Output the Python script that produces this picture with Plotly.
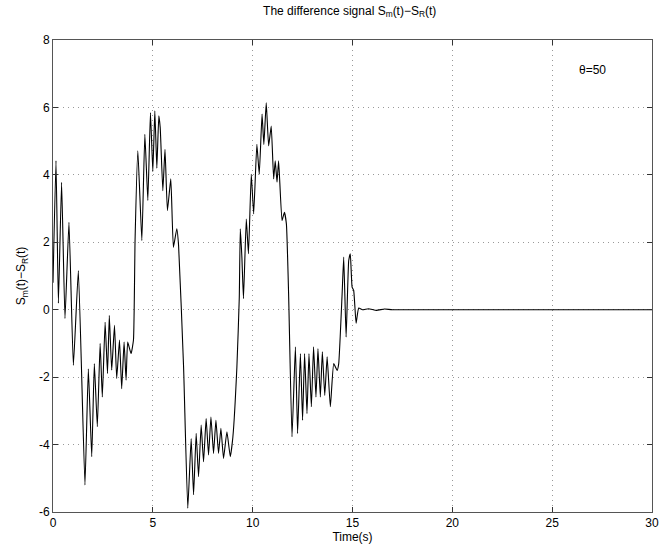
import plotly.graph_objects as go

# Time samples (s)
time_s = [0.0, 0.15, 0.27, 0.43, 0.6, 0.8, 1.02, 1.27, 1.6, 1.77, 1.94, 2.07, 2.22, 2.36,
          2.47, 2.61, 2.73, 2.82, 2.94, 3.08, 3.19, 3.33, 3.44, 3.56, 3.66, 3.74, 3.91,
          4.03, 4.11, 4.25, 4.45, 4.6, 4.75, 4.88, 5.0, 5.1, 5.2, 5.3, 5.37, 5.5, 5.61,
          5.73, 5.9, 6.03, 6.2, 6.29, 6.54, 6.75, 6.92, 7.04, 7.17, 7.29, 7.42, 7.54,
          7.67, 7.79, 7.91, 8.04, 8.16, 8.29, 8.41, 8.54, 8.71, 8.88, 9.01, 9.21, 9.33,
          9.38, 9.46, 9.54, 9.68, 9.79, 9.93, 10.05, 10.21, 10.33, 10.47, 10.56, 10.68,
          10.8, 10.93, 11.05, 11.13, 11.22, 11.3, 11.47, 11.59, 11.69, 11.8, 11.97, 12.14,
          12.25, 12.39, 12.5, 12.6, 12.72, 12.82, 12.94, 13.05, 13.17, 13.27, 13.39, 13.49,
          13.61, 13.73, 13.89, 14.06, 14.23, 14.31, 14.48, 14.56, 14.68, 14.81, 14.89,
          14.98, 15.06, 15.18, 15.31, 15.5, 15.8, 16.2, 16.6, 17.0, 30.0]

# Difference signal Sm(t)-SR(t)
diff_signal = [0.8, 4.42, 0.19, 3.78, -0.26, 2.59, -1.65, 1.16, -5.2, -1.75, -4.36, -1.6, -3.47, -1.0,
               -2.59, -0.37, -1.89, -0.17, -1.79, -0.46, -2.04, -0.9, -2.34, -0.96, -2.09, -0.96, -1.3,
               -0.9, 2.05, 4.71, 2.05, 5.2, 3.24, 5.85, 4.1, 5.9, 4.2, 5.75, 5.4, 3.53, 4.76,
               2.94, 3.88, 1.85, 2.4, 1.9, -1.7, -5.89, -3.82, -5.49, -3.67, -4.95, -3.42, -4.51,
               -3.23, -4.31, -3.18, -4.26, -3.28, -4.26, -3.52, -4.41, -3.62, -4.36, -3.77, -1.7, 0.37,
               2.4, 1.56, 0.33, 2.69, 1.66, 4.02, 2.84, 4.91, 4.02, 5.8, 4.9, 6.14,
               4.86, 5.45, 3.88, 4.42, 3.78, 4.42, 2.64, 2.89, 2.54, 0.47, -3.77, -1.1,
               -3.67, -1.3, -3.28, -1.3, -3.08, -1.3, -2.88, -1.1, -2.59, -1.15, -2.59, -1.25,
               -2.54, -1.4, -2.88, -1.6, -1.8, -1.6, 0.47, 1.56, -0.81, 1.46, 1.66,
               0.67, 0.57, -0.4, 0.05, 0.0, 0.03, -0.02, 0.02, 0.0, 0.0]

x_ticks = [0, 5, 10, 15, 20, 25, 30]
y_ticks = [-6, -4, -2, 0, 2, 4, 6, 8]

FONT = "Liberation Sans, Arial, Helvetica, sans-serif"

fig = go.Figure()
fig.add_trace(go.Scatter(x=time_s, y=diff_signal, mode="lines",
                         line=dict(color="black", width=1.1, shape="spline", smoothing=0.4),
                         showlegend=False, hoverinfo="skip"))

axis_common = dict(showline=True, linecolor="#555", linewidth=1, mirror="allticks",
                   ticks="inside", ticklen=5, tickcolor="#333", automargin=False,
                   showgrid=True, gridcolor="#999", griddash="1px,4px", gridwidth=1,
                   zeroline=False, tickfont=dict(family=FONT, size=12, color="black"))

fig.update_xaxes(range=[0, 30], tickvals=x_ticks, ticktext=[str(v) for v in x_ticks],
                 title=dict(text="Time(s)", font=dict(family=FONT, size=12, color="black"), standoff=1),
                 **axis_common)
fig.update_yaxes(range=[-6, 8], tickvals=y_ticks, ticktext=[str(v) for v in y_ticks],
                 title=dict(text="S<sub>m</sub>(t)\u2212S<sub>R</sub>(t)",
                            font=dict(family=FONT, size=12, color="black"), standoff=10),
                 **axis_common)

fig.add_annotation(x=27, y=7.12, xref="x", yref="y", text="\u03b8=50", showarrow=False,
                   font=dict(family=FONT, size=12, color="black"))

fig.update_layout(
    width=670, height=544,
    margin=dict(l=53, r=18, t=40, b=32),
    paper_bgcolor="white", plot_bgcolor="white",
    title=dict(text="The difference signal S<sub>m</sub>(t)\u2212S<sub>R</sub>(t)",
               x=0.522, xanchor="center", y=0.988, yanchor="top",
               font=dict(family=FONT, size=12, color="black")),
)

fig.write_html("out.html", config={"displayModeBar": False},
               post_script="document.body.style.margin='0';")
